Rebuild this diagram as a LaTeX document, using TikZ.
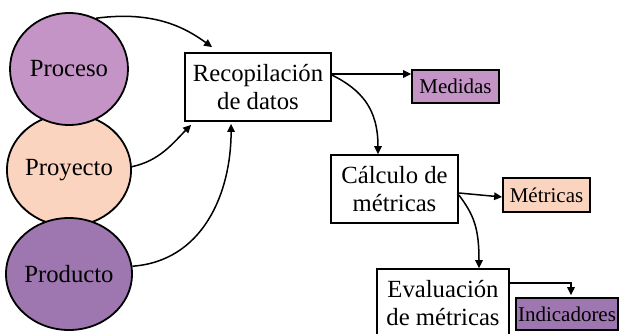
\documentclass[tikz,border=0pt]{standalone}
\usepackage{fontspec}
\setmainfont{Liberation Serif}
\usetikzlibrary{arrows.meta,shapes.geometric}
\definecolor{lpurple}{RGB}{195,148,197}
\definecolor{peach}{RGB}{251,212,192}
\definecolor{dpurple}{RGB}{158,118,176}
\begin{document}
\begin{tikzpicture}[x=1pt,y=-1pt,
  circ/.style={ellipse,draw=black,line width=1.8pt,minimum width=118pt,minimum height=112pt,inner sep=0pt,font=\fontsize{24.7}{28}\selectfont},
  proc/.style={draw=black,line width=1.8pt,fill=white,align=center,inner sep=0pt,font=\fontsize{24.7}{28.5}\selectfont},
  outb/.style={draw=black,line width=1.8pt,inner sep=0pt,font=\fontsize{21}{24}\selectfont},
  arr/.style={line width=1.5pt,-{Triangle[length=8pt,width=7.5pt]}}]
\useasboundingbox (0,0) rectangle (619,333);
\node[circ,fill=peach] (proy) at (69,170) {Proyecto};
\node[circ,fill=dpurple] (prod) at (69,274) {Producto};
\node[circ,fill=lpurple] (proc) at (69,69) {Proceso};
\node[proc,minimum width=146pt,minimum height=68pt] (rec) at (258,87) {Recopilación\\de datos};
\node[outb,fill=lpurple,minimum width=87pt,minimum height=33pt] (med) at (455.5,86.5) {Medidas};
\node[proc,minimum width=127pt,minimum height=68pt] (calc) at (394.5,189) {Cálculo de\\métricas};
\node[outb,fill=peach,minimum width=87pt,minimum height=34pt] (met) at (546.5,195) {Métricas};
\node[proc,minimum width=132pt,minimum height=68pt] (eval) at (443,303) {Evaluación\\de métricas};
\node[outb,fill=dpurple,minimum width=102pt,minimum height=32pt] (ind) at (567,314) {Indicadores};
\draw[arr] (proc.62) .. controls +(60,-8) and +(-25,-18) .. ([xshift=28pt,yshift=5pt]rec.north west);
\draw[arr] (proy.3) .. controls +(28,-6) and +(-18,18) .. ([xshift=7pt,yshift=-3pt]rec.south west);
\draw[arr] (prod.7) .. controls +(70,-5) and +(0,70) .. ([xshift=47pt,yshift=-2pt]rec.south west);
\draw[arr] ([yshift=13pt]rec.east) -- ([yshift=12.5pt]med.west);
\draw[arr] ([yshift=12pt]rec.east) .. controls +(30,15) and +(0,-45) .. ([xshift=-16.5pt]calc.north);
\draw[arr] ([yshift=-4pt]calc.east) -- ([yshift=-2pt]met.west);
\draw[arr] ([yshift=-6pt]calc.east) .. controls +(15,20) and +(0,-40) .. ([xshift=36pt]eval.north);
\draw[arr] ([yshift=20pt]eval.east) -| ([xshift=4pt,yshift=2pt]ind.north);
\end{tikzpicture}
\end{document}
